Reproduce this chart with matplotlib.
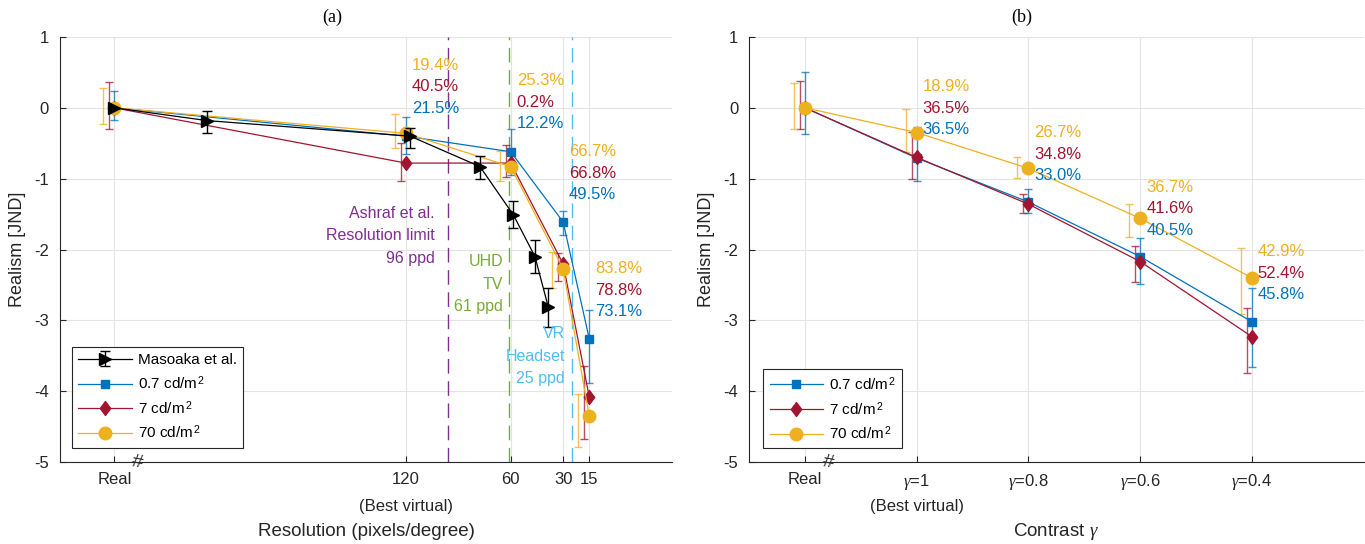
import matplotlib
matplotlib.use('Agg')
import matplotlib.pyplot as plt
import numpy as np
from matplotlib.path import Path
from matplotlib.transforms import blended_transform_factory

plt.rcParams['font.family'] = ['Liberation Sans', 'DejaVu Sans']
plt.rcParams['mathtext.fontset'] = 'custom'
plt.rcParams['mathtext.rm'] = 'Liberation Sans'
plt.rcParams['mathtext.it'] = 'Liberation Serif:italic'
plt.rcParams['mathtext.sf'] = 'Liberation Sans'
plt.rcParams['axes.unicode_minus'] = False

# ---------------- data ----------------
series_labels = ['0.7 cd/m$^{\\,2}$', '7 cd/m$^{\\,2}$', '70 cd/m$^{\\,2}$']

# (a) resolution
res_tick_labels = ['Real', '120', '60', '30', '15']
res_ppd = [287, 120, 60, 30, 15]

mas_ppd = [287, 234, 117.6, 77.6, 58.5, 46.1, 38.5]
mas_mean = [0, -0.18, -0.40, -0.83, -1.51, -2.10, -2.81]
mas_hi = [0, -0.04, -0.28, -0.68, -1.31, -1.86, -2.55]
mas_lo = [0, -0.35, -0.56, -1.00, -1.70, -2.33, -3.10]

res_blue_mean = [0, -0.40, -0.62, -1.61, -3.26]
res_blue_hi = [0.24, -0.13, -0.30, -1.45, -2.86]
res_blue_lo = [-0.17, -0.65, -0.95, -1.80, -3.88]

res_red_mean = [0, -0.78, -0.78, -2.20, -4.08]
res_red_hi = [0.37, -0.50, -0.53, -2.05, -3.64]
res_red_lo = [-0.30, -1.03, -0.97, -2.44, -4.67]

res_orange_mean = [0, -0.36, -0.83, -2.27, -4.35]
res_orange_hi = [0.28, -0.09, -0.61, -2.04, -4.04]
res_orange_lo = [-0.23, -0.56, -1.03, -2.55, -4.79]

res_pct_orange = ['19.4%', '25.3%', '66.7%', '83.8%']
res_pct_red = ['40.5%', '0.2%', '66.8%', '78.8%']
res_pct_blue = ['21.5%', '12.2%', '49.5%', '73.1%']

ref_ppd = [96, 61, 25]
ref_labels = [['Ashraf et al.', 'Resolution limit', '96 ppd'],
              ['UHD', 'TV', '61 ppd'],
              ['VR', 'Headset', '25 ppd']]

# (b) contrast
con_tick_labels = ['Real', '$\\gamma$=1', '$\\gamma$=0.8', '$\\gamma$=0.6', '$\\gamma$=0.4']
con_pos = [0, 1, 2, 3, 4]

con_blue_mean = [0, -0.71, -1.33, -2.10, -3.02]
con_blue_hi = [0.50, -0.27, -1.14, -1.84, -2.54]
con_blue_lo = [-0.37, -1.03, -1.48, -2.49, -3.66]

con_red_mean = [0, -0.70, -1.36, -2.17, -3.23]
con_red_hi = [0.38, -0.34, -1.21, -1.95, -2.83]
con_red_lo = [-0.30, -1.00, -1.49, -2.46, -3.74]

con_orange_mean = [0, -0.35, -0.855, -1.56, -2.40]
con_orange_hi = [0.35, -0.02, -0.69, -1.36, -1.98]
con_orange_lo = [-0.30, -0.62, -0.99, -1.82, -2.91]

con_pct_orange = ['18.9%', '26.7%', '36.7%', '42.9%']
con_pct_red = ['36.5%', '34.8%', '41.6%', '52.4%']
con_pct_blue = ['36.5%', '33.0%', '40.5%', '45.8%']

# ---------------- layout / style ----------------
BLUE, RED, ORANGE = '#0072BD', '#A2142F', '#EDB120'
PURPLE, GREEN, CYAN = '#7E2F8E', '#77AC30', '#4DBEEE'
AX = '#262626'
W, H = 1365, 544

# label anchors (top line y in data units)
res_pct_y = [0.60, 0.38, -0.62, -2.27]
con_pct_y = [0.30, -0.35, -1.12, -2.03]
ref_label_y = [-1.49, -2.17, -3.19]
ref_label_dx = [-13, -6, -7]

diamond = Path([(0, 1), (0.75, 0), (0, -1), (-0.75, 0), (0, 1)],
               [Path.MOVETO, Path.LINETO, Path.LINETO, Path.LINETO, Path.CLOSEPOLY])

fig = plt.figure(figsize=(W / 100, H / 100), dpi=100)


def px_axes(l, r, t, b):
    return fig.add_axes([l / W, 1 - b / H, (r - l) / W, (b - t) / H])


ax1 = px_axes(60, 672, 37, 462)
ax2 = px_axes(749.3, 1363.5, 37, 462)
ax1.set_xlim(318.2, -32.4)
ax2.set_xlim(-0.5, 5.0)

for ax in (ax1, ax2):
    ax.set_ylim(-5, 1)
    ax.set_yticks(range(-5, 2))
    ax.spines[['top', 'right']].set_visible(False)
    for s in ('left', 'bottom'):
        ax.spines[s].set_color(AX)
        ax.spines[s].set_linewidth(0.8)
    ax.tick_params(direction='in', length=4, width=0.8, color=AX,
                   labelsize=12, labelcolor=AX)
    ax.tick_params(axis='y', pad=8)
    ax.tick_params(axis='x', pad=7)
    ax.grid(True, color='#e4e4e4', lw=0.8)
    ax.set_axisbelow(True)
    ax.set_ylabel('Realism [JND]', fontsize=13, color=AX)
    ax.yaxis.set_label_coords(-43 / ((ax.get_position().width) * W), 0.5)
    ax.yaxis.label.set_va('center')

ax1.set_xticks(res_ppd)
ax1.set_xticklabels(res_tick_labels)
ax2.set_xticks(con_pos)
ax2.set_xticklabels(con_tick_labels)


def px_to_data(ax, px):
    x0, x1 = ax.get_xlim()
    return px * (x1 - x0) / (ax.get_position().width * W)


def draw_series(ax, x, means, his, los, xs_offsets):
    styles = [dict(color=BLUE, marker='s', ms=5.5),
              dict(color=RED, marker=diamond, ms=10),
              dict(color=ORANGE, marker='o', ms=9)]
    handles = []
    for (m, hi, lo, st, lab, off) in zip(means, his, los, styles, series_labels, xs_offsets):
        m = np.array(m); hi = np.array(hi); lo = np.array(lo)
        xo = np.array(x, float) + px_to_data(ax, off)
        ax.errorbar(xo, m, yerr=[m - lo, hi - m], fmt='none', ecolor=st['color'],
                    elinewidth=1.0, capsize=2.6, capthick=1.0, alpha=0.75, zorder=3)
        h, = ax.plot(x, m, color=st['color'], lw=0.9, marker=st['marker'],
                     ms=st['ms'], mfc=st['color'], mec=st['color'], label=lab, zorder=4)
        handles.append(h)
    return handles


# ---------- panel (a) ----------
for xv, c in zip(ref_ppd, [PURPLE, GREEN, CYAN]):
    ax1.axvline(xv, color=c, lw=1.0, ls=(0, (10.5, 5.5)), zorder=2)

mas = np.array(mas_mean)
hm = ax1.errorbar(mas_ppd, mas, yerr=[mas - np.array(mas_lo), np.array(mas_hi) - mas],
                  color='black', lw=0.9, marker='>', ms=8, capsize=3.8, elinewidth=1.0,
                  label='Masoaka et al.', zorder=5)
h1 = draw_series(ax1, res_ppd,
                 [res_blue_mean, res_red_mean, res_orange_mean],
                 [res_blue_hi, res_red_hi, res_orange_hi],
                 [res_blue_lo, res_red_lo, res_orange_lo],
                 [0, -5, -11])


def pct_labels(ax, xs, ys, groups):
    for i, (xv, yv) in enumerate(zip(xs, ys)):
        for k, (labels, c) in enumerate(groups):
            ax.annotate(labels[i], xy=(xv, yv), xycoords='data',
                        xytext=(6, -21.5 * k), textcoords='offset pixels',
                        ha='left', va='center', fontsize=12, color=c, zorder=6)


pct_labels(ax1, res_ppd[1:], res_pct_y,
           [(res_pct_orange, ORANGE), (res_pct_red, RED), (res_pct_blue, BLUE)])

for xv, yv, dx, lines, c in zip(ref_ppd, ref_label_y, ref_label_dx, ref_labels,
                                [PURPLE, GREEN, CYAN]):
    for k, t in enumerate(lines):
        ax1.annotate(t, xy=(xv, yv), xycoords='data', xytext=(dx, -22.5 * k),
                     textcoords='offset pixels', ha='right', va='center',
                     fontsize=11.5, color=c, zorder=6)

leg1 = ax1.legend(handles=[hm] + h1, loc='lower left', bbox_to_anchor=(0.020, 0.034),
                  borderaxespad=0, fontsize=11, frameon=True, fancybox=False,
                  edgecolor=AX, framealpha=1, handlelength=3.5, labelspacing=0.45,
                  handletextpad=0.4, borderpad=0.4)
leg1.get_frame().set_linewidth(0.8)

# ---------- panel (b) ----------
h2 = draw_series(ax2, con_pos,
                 [con_blue_mean, con_red_mean, con_orange_mean],
                 [con_blue_hi, con_red_hi, con_orange_hi],
                 [con_blue_lo, con_red_lo, con_orange_lo],
                 [0, -5, -11])
pct_labels(ax2, con_pos[1:], con_pct_y,
           [(con_pct_orange, ORANGE), (con_pct_red, RED), (con_pct_blue, BLUE)])

leg2 = ax2.legend(handles=h2, loc='lower left', bbox_to_anchor=(0.023, 0.032),
                  borderaxespad=0, fontsize=11, frameon=True, fancybox=False,
                  edgecolor=AX, framealpha=1, handlelength=3.5, labelspacing=0.45,
                  handletextpad=0.4, borderpad=0.4)
leg2.get_frame().set_linewidth(0.8)

# ---------- common annotations ----------
for ax, best_x, brk_px, xlabel, title, title_px in (
        (ax1, res_ppd[1], 136.7, 'Resolution (pixels/degree)', '(a)', 332),
        (ax2, con_pos[1], 827.7, 'Contrast $\\gamma$', '(b)', 1022)):
    tr = blended_transform_factory(ax.transData, ax.transAxes)
    ax.annotate('(Best virtual)', xy=(best_x, 0), xycoords=tr, xytext=(0, -45),
                textcoords='offset pixels', ha='center', va='center',
                fontsize=12, color=AX, annotation_clip=False)
    ax.set_xlabel(xlabel, fontsize=13.5, color=AX)
    ax.xaxis.set_label_coords(0.5, -69 / 425)
    ax.xaxis.label.set_va('center')
    fig.text(brk_px / W, 1 - 463 / H, '#', ha='center', va='center', fontsize=14,
             color=AX, style='italic', rotation=-10)
    fig.text(title_px / W, 1 - 17 / H, title, ha='center', va='center', fontsize=13,
             family='Liberation Serif', color='black')

fig.savefig('out.png', dpi=100)
